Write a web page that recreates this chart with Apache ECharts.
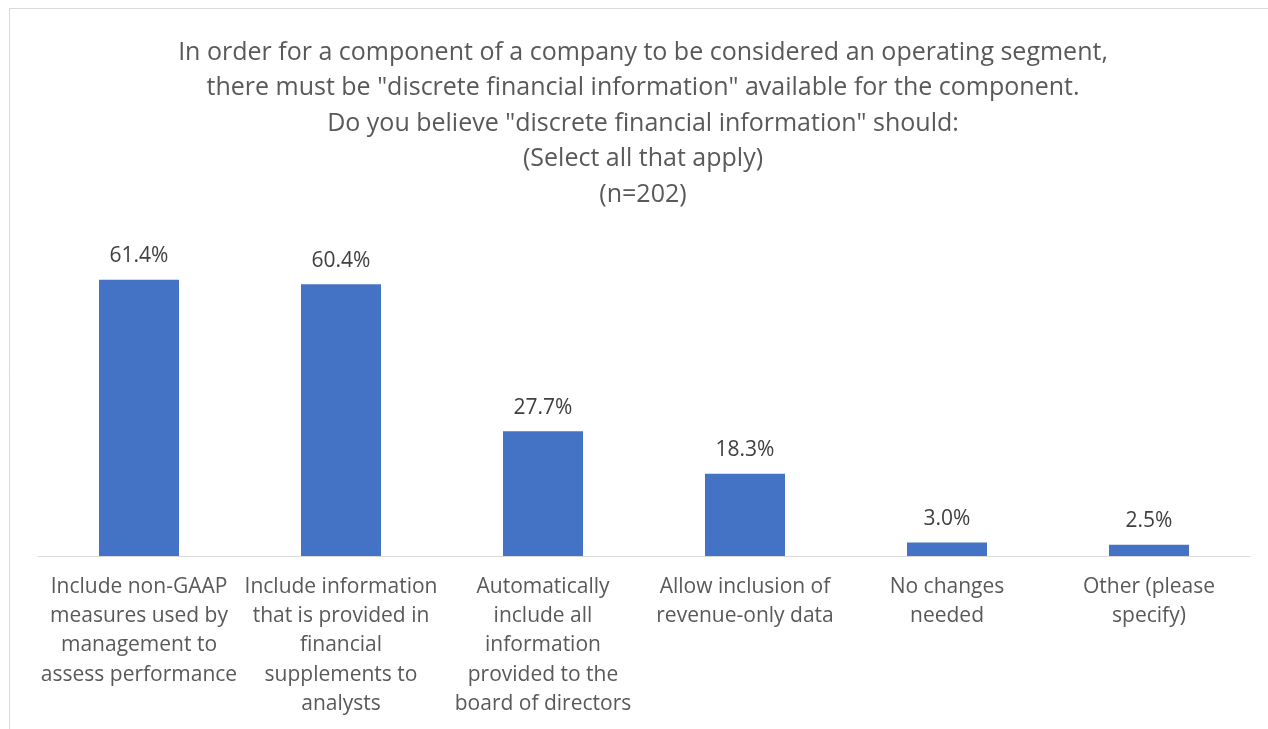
<!DOCTYPE html>
<html>
<head>
<meta charset="utf-8">
<script src="https://cdn.jsdelivr.net/npm/echarts@6/dist/echarts.min.js"></script>
<style>
  html, body { margin: 0; padding: 0; background: #ffffff; }
  #chart { width: 1268px; height: 729px; }
</style>
</head>
<body>
<div id="chart"></div>
<script>
// Survey question shown as the chart heading
const titleLines = [
  'In order for a component of a company to be considered an operating segment,',
  'there must be "discrete financial information" available for the component.',
  'Do you believe "discrete financial information" should:',
  '(Select all that apply)',
  '(n=202)'
];

// Answer options (line breaks as wrapped under the axis)
const categories = [
  'Include non-GAAP\nmeasures used by\nmanagement to\nassess performance',
  'Include information\nthat is provided in\nfinancial\nsupplements to\nanalysts',
  'Automatically\ninclude all\ninformation\nprovided to the\nboard of directors',
  'Allow inclusion of\nrevenue-only data',
  'No changes\nneeded',
  'Other (please\nspecify)'
];

// Share of respondents selecting each option, in percent
const shares = [61.4, 60.4, 27.7, 18.3, 3.0, 2.5];

const chart = echarts.init(document.getElementById('chart'), null, { renderer: 'canvas' });

const fontFamily = '"Open Sans", "Noto Sans", sans-serif';

chart.setOption({
  backgroundColor: '#ffffff',
  animation: false,
  graphic: [{
    type: 'rect',
    shape: { x: 9.5, y: 8.5, width: 1300, height: 800 },
    style: { fill: 'none', stroke: '#d9d9d9', lineWidth: 1 },
    silent: true
  }],
  title: {
    text: titleLines.join('\n'),
    left: 638,
    top: 30,
    textAlign: 'center',
    textStyle: {
      fontFamily: fontFamily,
      fontSize: 25,
      fontWeight: 'normal',
      color: '#595959',
      lineHeight: 35.5
    }
  },
  grid: {
    left: 38,
    right: 18,
    top: 241,
    bottom: 173,
    containLabel: false
  },
  xAxis: {
    type: 'category',
    data: categories,
    axisLine: { show: true, lineStyle: { color: '#d9d9d9', width: 1 } },
    axisTick: { show: false },
    axisLabel: {
      interval: 0,
      margin: 16,
      fontFamily: fontFamily,
      fontSize: 21,
      lineHeight: 29.3,
      color: '#595959'
    }
  },
  yAxis: {
    type: 'value',
    min: 0,
    max: 70,
    show: false,
    splitLine: { show: false }
  },
  series: [{
    type: 'bar',
    data: shares,
    barWidth: '39.6%',
    itemStyle: { color: '#4472C4' },
    label: {
      show: true,
      position: 'top',
      distance: 13,
      formatter: p => p.value.toFixed(1) + '%',
      fontFamily: fontFamily,
      fontSize: 21,
      color: '#404040'
    }
  }]
});
</script>
</body>
</html>
